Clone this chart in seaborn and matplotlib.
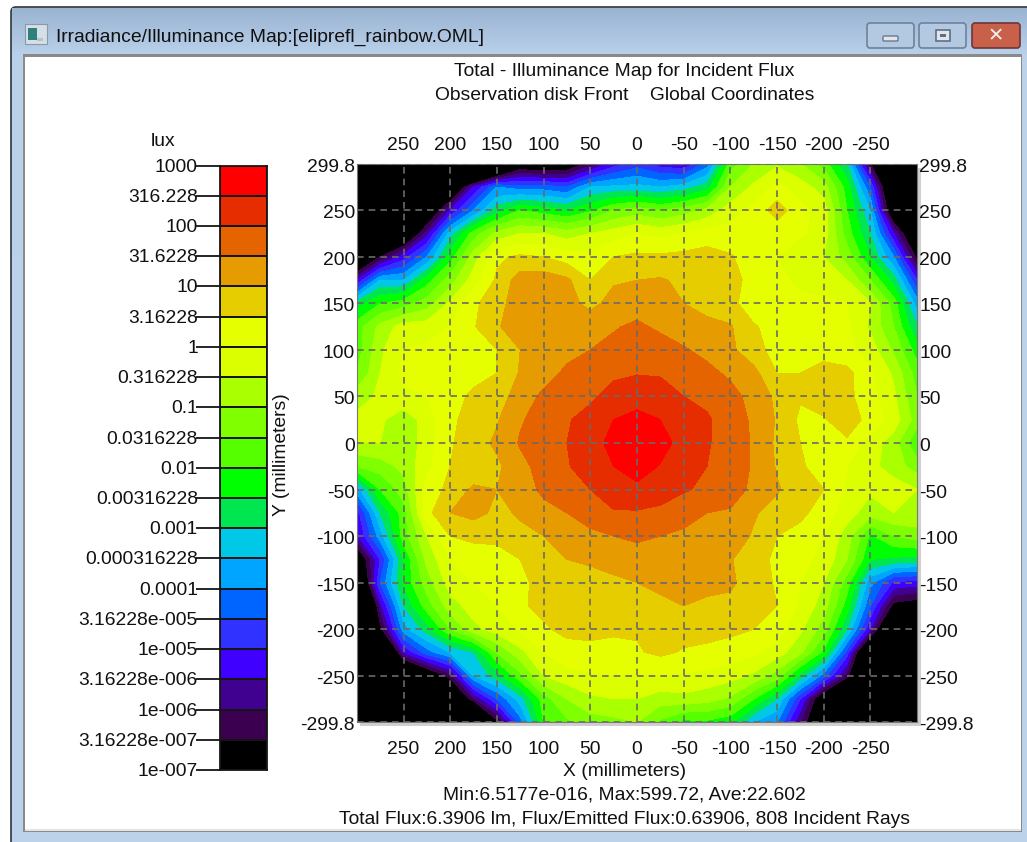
import numpy as np
import matplotlib
matplotlib.use("Agg")
import matplotlib.pyplot as plt
from matplotlib.patches import Rectangle, FancyBboxPatch
from matplotlib.colors import ListedColormap
from matplotlib.transforms import ScaledTranslation
import seaborn as sns

# ---------- data ----------
window_title = "Irradiance/Illuminance Map:[eliprefl_rainbow.OML]"
title_lines = ["Total - Illuminance Map for Incident Flux",
               "Observation disk Front    Global Coordinates"]
stats_lines = ["Min:6.5177e-016, Max:599.72, Ave:22.602",
               "Total Flux:6.3906 lm, Flux/Emitted Flux:0.63906, 808 Incident Rays"]
legend_labels = ["1000", "316.228", "100", "31.6228", "10", "3.16228", "1", "0.316228", "0.1",
                 "0.0316228", "0.01", "0.00316228", "0.001", "0.000316228", "0.0001",
                 "3.16228e-005", "1e-005", "3.16228e-006", "1e-006", "3.16228e-007", "1e-007"]
# colours of the 20 bands, lowest illuminance first
band_colors = ["#000000", "#3c0050", "#400090", "#4000ff", "#3033ff", "#0064ff", "#00a5ff",
               "#00c8e6", "#00e650", "#00ff00", "#55ff00", "#80ff00", "#aaff00", "#dcff00",
               "#e6ff00", "#e6cd00", "#e69b00", "#e66400", "#e62d00", "#ff0000"]
x_mm = [300, 275, 250, 225, 200, 175, 150, 125, 100, 75, 50, 25, 0,
        -25, -50, -75, -100, -125, -150, -175, -200, -225, -250, -275, -300]
y_mm = [300, 275, 250, 225, 200, 175, 150, 125, 100, 75, 50, 25, 0,
        -25, -50, -75, -100, -125, -150, -175, -200, -225, -250, -275, -300]
tick_x = [250, 200, 150, 100, 50, 0, -50, -100, -150, -200, -250]
tick_y = [299.8, 250, 200, 150, 100, 50, 0, -50, -100, -150, -200, -250, -299.8]
tick_y_labels = ["299.8", "250", "200", "150", "100", "50", "0", "-50", "-100", "-150",
                 "-200", "-250", "-299.8"]

# illuminance, in half-decades above 1e-7 lux, one list per Y row
y_p300 = [-10,-10,-10,-10,-10,-10,-5,-0.5,-1,-0.5,1.5,3.5,4.5,3.5,3,5.5,10.5,12,12.8,12,10.5,8,1,-5,-10]
y_p275 = [-10,-10,-9,-6,-2,3,6,5.5,5.5,5,7,7.2,7.3,7,7.5,8.5,12,13.2,14.3,13.5,12.5,9.5,5,-3,-10]
y_p250 = [-10,-8,-5,-1.5,3,6,8.5,10,9.5,9,9.8,11,11.5,11,11.5,12.3,13.5,14.3,15.5,14.3,13.5,10,7,-1.5,-8]
y_p225 = [-6,-5,-2,2.5,7.5,10.5,12.3,13,13,12.5,13,13.5,14,13.7,14,14.5,14.4,14.3,14.3,14.2,13.5,10.5,8,3,-2]
y_p200 = [-3,1,3.5,6,9.5,12.5,14.8,15.2,15,14.5,14.3,15,15.2,15.2,15.3,15.4,15.1,14.5,14,13,13,11.5,9,6,0.5]
y_p175 = [3,7,7,9.5,11.5,13.5,15.2,16.5,16.6,16.2,15,15.9,16,16.1,15.8,15.5,15.3,14.7,14.2,13.8,13.5,13,11,8.5,4]
y_p150 = [8.5,10,10.5,11.5,13.2,14.8,15.6,16.6,16.7,16.3,15.75,16.3,16.5,16.5,16,15.6,15.3,14.4,14.2,14.2,14.2,14,13,10.5,6.5]
y_p125 = [10.5,12.3,13.5,13.5,14,14.9,15.9,16.5,16.6,16.6,16.6,16.9,17.2,16.8,16.5,16.3,16.1,15.1,14.6,14.4,14.4,14.2,12.8,11,8]
y_p100 = [10.5,12.8,14,14.2,14.3,14.4,15,16,16.6,16.7,17,17.3,17.6,17.5,17.1,16.7,16.2,15.4,14.6,14.4,14.8,14.3,13.5,11.8,9.5]
y_p075 = [11,13,14.2,14.3,14.3,14.5,15,16.1,16.6,17.2,17.5,17.8,17.95,17.9,17.6,17.3,16.8,16.3,15,15,15.2,15.3,14.2,12.8,10.5]
y_p050 = [12.5,13.2,13.8,14,14.4,15.3,15.5,16.5,17.2,17.5,17.8,18.4,18.6,18.5,18,17.8,17.4,16.6,15.8,15.1,15.3,15.3,14.3,13.2,11]
y_p025 = [13.3,13.2,12.3,13.5,14.8,15.4,15.9,16.9,17.4,17.9,18.4,19,19.3,19,18.5,18.1,17.6,16.8,15.9,14.8,14.95,15.3,14.8,13.5,11.5]
y_000 = [13,13,12.2,13.5,14.9,15.5,16.2,17.1,17.5,18,18.6,19.3,19.7,19.3,18.7,18.1,17.5,16.9,15.8,15,14.4,14.9,13.5,12.5,10]
y_m025 = [11,11.5,12.3,13.7,15,15.2,15.8,16.7,17.4,17.9,18.6,19,19.4,18.95,18.4,18,17.5,16.9,15.9,15.2,14.3,14,13.3,12.5,11.5]
y_m050 = [6.5,10,11.5,14.4,15.3,16.2,16,16.5,17.2,17.7,18,18.6,18.8,18.6,18.1,17.8,17.4,16.8,16.1,15.5,15,13.8,13.2,13.5,13]
y_m075 = [3.5,8,10.5,14.7,16,16.3,15.8,16.1,16.7,17,17.6,17.9,17.9,17.7,17.4,17,16.9,16.1,15.6,15.2,14.6,13.4,12.5,13,12.8]
y_m100 = [2.8,6.5,10.5,13,15,15.3,15.3,15.8,16,16.5,16.7,17,17.2,17,16.8,16.7,16.5,15.9,15,14.7,14,12.5,9.8,11,11.5]
y_m125 = [-1,4,9,12.3,14,14.3,14.5,15,15.7,16,16.2,16.4,16.5,16.6,16.7,16.6,16.1,15.2,14.9,14.2,13.8,12,9,8.8,8.6]
y_m150 = [-3,5,9.2,11.5,13.5,14,14.2,14.8,15.3,15.4,15.5,15.8,16,16.2,16.3,16.3,16.2,15.4,14.9,14,13,10.5,6.3,3.8,3.5]
y_m175 = [-8,2.5,8,10.5,12.5,13.5,14,14.9,15.2,15.4,15.5,15.5,15.6,15.8,16,15.8,15.7,15.4,15,13.8,12.5,9.5,5,0.5,0]
y_m200 = [-10,0.5,6.5,8.5,11,12.7,13.5,14.1,14.9,15.2,15.2,15.1,15.1,15.3,15.4,15.3,15.2,15,14.5,13.2,11.5,8,3,-4,-6]
y_m225 = [-10,-6,3,5.5,7,8,11,12.7,14,14.7,14.8,14.8,14.9,15.2,14.9,14.8,14.6,14.2,13.5,12.2,9.7,4.5,-4,-8,-10]
y_m250 = [-10,-10,-4,-1,1.5,7,8.5,10.7,13,13.6,13.9,14,14,14,13.9,13.7,13.4,12.8,11.5,8.6,5.5,1.5,-6,-10,-10]
y_m275 = [-10,-10,-8,-6,-2.5,1.8,5,7.5,10.5,12,12.8,13,13,12.5,12.7,12.4,11.8,10,8,4,-1,-6,-10,-10,-10]
y_m300 = [-10,-10,-10,-10,-10,-8,0.5,5.5,10,10.8,11.5,11.7,12,10.8,9.7,9.8,9.3,7,6,2,-2,-8,-10,-10,-10]

field = np.array([y_p300, y_p275, y_p250, y_p225, y_p200, y_p175, y_p150, y_p125, y_p100,
                  y_p075, y_p050, y_p025, y_000, y_m025, y_m050, y_m075, y_m100, y_m125,
                  y_m150, y_m175, y_m200, y_m225, y_m250, y_m275, y_m300], dtype=float)

# ---------- style ----------
sns.set_theme(style="white")
FONT = "Liberation Sans"
plt.rcParams["font.family"] = [FONT, "DejaVu Sans"]
FS = 13.9
TXT = "#111111"
W, H = 1027, 842
fig = plt.figure(figsize=(W / 100, H / 100), dpi=100, facecolor="white")
DOWN = ScaledTranslation(0, -1.5 / 100, fig.dpi_scale_trans)


def axes_px(x0, y0, x1, y1, **kw):
    return fig.add_axes([x0 / W, 1 - y1 / H, (x1 - x0) / W, (y1 - y0) / H], **kw)


# ---------- window chrome, in pixel coordinates ----------
bg = axes_px(0, 0, W, H, zorder=0)
bg.set_xlim(0, W)
bg.set_ylim(H, 0)
bg.axis("off")
bg.add_patch(FancyBboxPatch((11, 7), W + 20, H, boxstyle="round,pad=0,rounding_size=5",
                            fc="#bcd2ea", ec="#303338", lw=1.2))
grad = np.linspace(0, 1, 48)[:, None]
bg.imshow(grad, extent=(12, W, 55, 8), aspect="auto", zorder=1,
          cmap=ListedColormap(sns.blend_palette(["#9bb4d2", "#b9d0ea"], 32)))
bg.set_xlim(0, W)
bg.set_ylim(H, 0)
bg.add_patch(Rectangle((12, 55), 10, 200, fc="#b9d0ea", ec="none", zorder=1))
bg.add_patch(Rectangle((23, 54), W - 23 - 5, 778, fc="#8a8a8a", ec="none", zorder=2))
bg.add_patch(Rectangle((25, 57), W - 25 - 6, 774, fc="white", ec="none", zorder=3))
bg.add_patch(Rectangle((25, 829), W - 25 - 6, 2, fc="#e4e4e4", ec="none", zorder=3))
# title icon
bg.add_patch(Rectangle((25, 24), 22, 20, fc="#d5dfe8", ec="#8a98a8", lw=0.8, zorder=4))
bg.add_patch(Rectangle((28, 28), 9, 12, fc="#2f7f7a", ec="none", zorder=5))
bg.add_patch(Rectangle((37, 38), 6, 3, fc="#b8c0c8", ec="none", zorder=5))
bg.text(56, 37, window_title, fontsize=FS, color="#101010", va="center", ha="left", zorder=6)
# window buttons
for x0, w, fc, ec in [(867, 47, "#b3c9e2", "#6f829c"), (919, 47, "#b3c9e2", "#6f829c"),
                      (972, 48, "#c9604a", "#70343a")]:
    bg.add_patch(FancyBboxPatch((x0, 23), w, 25, boxstyle="round,pad=0,rounding_size=3",
                                fc=fc, ec=ec, lw=1.2, zorder=4))
bg.add_patch(FancyBboxPatch((883, 36), 15, 5, boxstyle="round,pad=0,rounding_size=1",
                            fc="#e2e6ea", ec="#5f6f85", lw=0.9, zorder=5))
bg.add_patch(Rectangle((936, 30), 14, 11, fc="#e2e6ea", ec="#5f6f85", lw=1.2, zorder=5))
bg.add_patch(Rectangle((940, 34), 6, 3, fc="#5f6f85", ec="none", zorder=6))
bg.text(996, 36, "✕", fontsize=14, fontweight="bold", color="#f2f0ee", ha="center", va="center",
        zorder=6, family="DejaVu Sans")
# drop shadow of the map
bg.add_patch(Rectangle((360, 722), 561, 4, fc="#cfcfcf", ec="none", zorder=4))
bg.add_patch(Rectangle((917, 168), 4, 558, fc="#cfcfcf", ec="none", zorder=4))

# texts placed around the plot
for ypx, s in zip([71, 95], title_lines):
    bg.text(624.5, ypx, s, fontsize=FS, color=TXT, ha="center", va="center", zorder=6)
for ypx, s in zip([795, 820], stats_lines):
    bg.text(624.5, ypx, s, fontsize=FS, color=TXT, ha="center", va="center", zorder=6)
bg.text(624.5, 772, "X (millimeters)", fontsize=FS, color=TXT, ha="center", va="center", zorder=6)
bg.text(281, 455, "Y (millimeters)", fontsize=FS, color=TXT, rotation=90, ha="center",
        va="center", zorder=6)
bg.text(163, 142, "lux", fontsize=FS, color=TXT, ha="center", va="center", zorder=6)

# ---------- colour legend: one seaborn heatmap column ----------
leg = axes_px(220, 165.5, 267, 770, zorder=3)
strip = np.arange(len(band_colors))[::-1].reshape(-1, 1)
sns.heatmap(strip, ax=leg, cmap=ListedColormap(band_colors), cbar=False, xticklabels=False,
            linewidths=1.3, linecolor="#151515", vmin=-0.5, vmax=len(band_colors) - 0.5)
leg.set_yticks(np.arange(len(legend_labels)))
leg.set_yticklabels(legend_labels, rotation=0, fontsize=FS, color=TXT)
leg.tick_params(axis="y", left=True, length=17, width=1.3, color="#151515", pad=-1)
for s in leg.spines.values():
    s.set_visible(True)
    s.set_color("#151515")
    s.set_linewidth(1.3)
leg.set_ylabel("")
for lab in leg.get_yticklabels():
    lab.set_transform(lab.get_transform() + DOWN)

# ---------- the map ----------
ax = axes_px(357, 164, 917, 722, zorder=3)
ax.contourf(x_mm, y_mm, field, levels=np.arange(1, 21), colors=band_colors, extend="min")
ax.set_xlim(299.8, -299.8)
ax.set_ylim(-299.8, 299.8)
ax.set_xticks(tick_x)
ax.set_xticklabels([str(v) for v in tick_x], fontsize=FS, color=TXT)
ax.set_yticks(tick_y)
ax.set_yticklabels(tick_y_labels, fontsize=FS, color=TXT)
ax.tick_params(axis="x", length=0, labeltop=False, labelbottom=True, pad=14)
ax.tick_params(axis="y", length=0, labelleft=True, labelright=True, pad=1.5)
ax.grid(True, color="#6a6a6a", linestyle=(0, (4, 3)), linewidth=1.2)
ax.set_axisbelow(False)
for s in ax.spines.values():
    s.set_color("#777777")
    s.set_linewidth(0.8)
for tick in ax.yaxis.get_major_ticks():
    tick.label1.set_transform(tick.label1.get_transform() + DOWN)
    tick.label2.set_transform(tick.label2.get_transform() + DOWN)
top = ax.secondary_xaxis("top")
top.set_xticks(tick_x)
top.set_xticklabels([str(v) for v in tick_x], fontsize=FS, color=TXT)
top.tick_params(axis="x", length=0, pad=7)
top.spines["top"].set_visible(False)

fig.savefig("out.png", dpi=100)
